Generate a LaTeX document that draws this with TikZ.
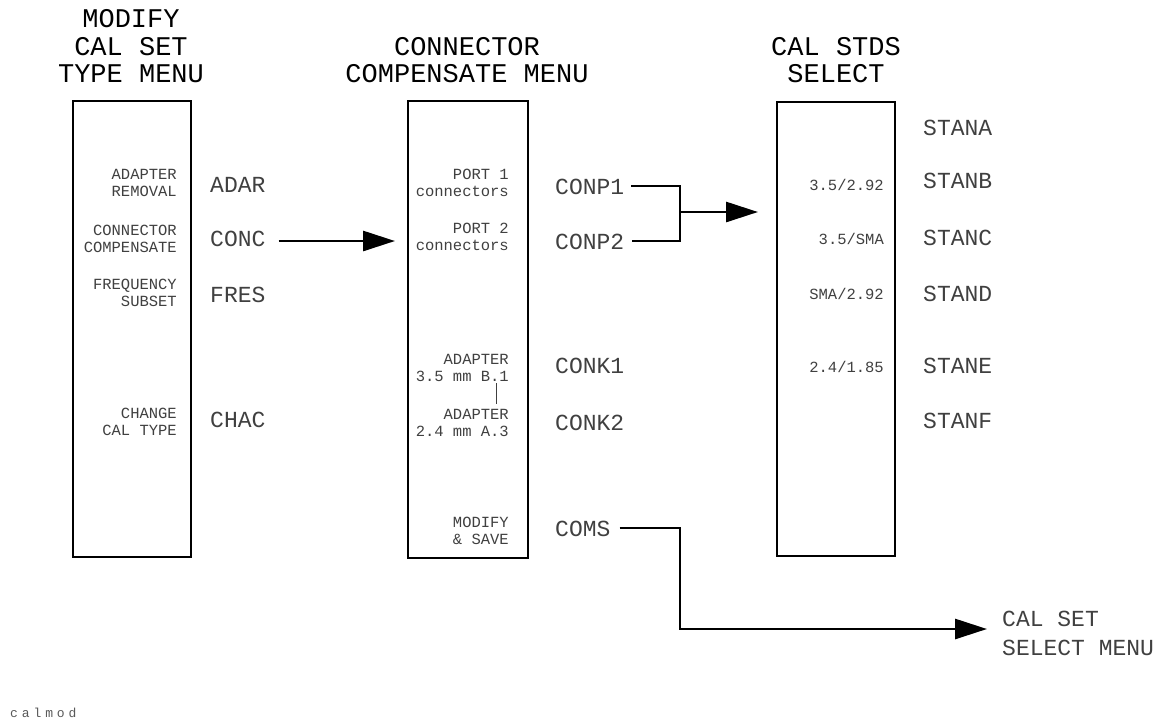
\documentclass[tikz,border=0pt]{standalone}
\usepackage{fontspec}
\newfontfamily\pf{Liberation Mono}
\usetikzlibrary{arrows.meta}
\begin{document}
\begin{tikzpicture}[x=1pt,y=-1pt,
  title/.style={font=\pf\fontsize{27}{27.5}\selectfont, align=center, inner sep=0pt, anchor=south},
  lab/.style={font=\pf\fontsize{15.5}{17.5}\selectfont, text=black!75, align=right, inner sep=0pt, anchor=south east},
  slab/.style={font=\pf\fontsize{15.5}{17.5}\selectfont, text=black!75, inner sep=0pt, anchor=base east},
  key/.style={font=\pf\fontsize{23}{23}\selectfont, text=black!75, inner sep=0pt, anchor=base west, text height=16pt, text depth=0pt},
  menubox/.style={draw, line width=1.5pt, inner sep=0pt, anchor=north west},
  conn/.style={line width=2.8pt},
  arr/.style={conn, -{Triangle[length=32pt,width=20pt]}}
]
\useasboundingbox (0,0) rectangle (1164,724);

% boxes
\node[menubox, minimum width=118pt, minimum height=456pt] (b1) at (72,100) {};
\node[menubox, minimum width=120pt, minimum height=457pt] (b2) at (407,100) {};
\node[menubox, minimum width=118pt, minimum height=454pt] (b3) at (776,101) {};

% titles
\node[title] (t1) at (131,83) {MODIFY\\CAL SET\\TYPE MENU};
\node[title] (t2) at (467,83) {CONNECTOR\\COMPENSATE MENU};
\node[title] (t3) at (836,83) {CAL STDS\\SELECT};

% box 1 labels
\node[lab] (l1) at (177,197) {ADAPTER\\REMOVAL};
\node[lab] (l2) at (177,253) {CONNECTOR\\COMPENSATE};
\node[lab] (l3) at (177,307) {FREQUENCY\\SUBSET};
\node[lab] (l4) at (177,436) {CHANGE\\CAL TYPE};

% box 2 labels
\node[lab] (p1) at (509,197) {PORT 1\\connectors};
\node[lab] (p2) at (509,251) {PORT 2\\connectors};
\node[lab] (k1) at (509,382) {ADAPTER\\3.5 mm B.1};
\node[lab] (k2) at (509,437) {ADAPTER\\2.4 mm A.3};
\node[lab] (ms) at (509,545) {MODIFY\\\& SAVE};

% box 3 labels
\node[slab] (s1) at (884,190) {3.5/2.92};
\node[slab] (s2) at (884,244) {3.5/SMA};
\node[slab] (s3) at (884,299) {SMA/2.92};
\node[slab] (s4) at (884,372) {2.4/1.85};

% softkeys
\node[key] (adar) at (210,192) {ADAR};
\node[key] (conc) at (210,246) {CONC};
\node[key] (fres) at (210,302) {FRES};
\node[key] (chac) at (210,427) {CHAC};

\node[key] (conp1) at (555,194) {CONP1};
\node[key] (conp2) at (555,249) {CONP2};
\node[key] (conk1) at (555,373) {CONK1};
\node[key] (conk2) at (555,430) {CONK2};
\node[key] (coms) at (555,536) {COMS};

\node[key] (stana) at (923,135) {STANA};
\node[key] (stanb) at (923,188) {STANB};
\node[key] (stanc) at (923,245) {STANC};
\node[key] (stand) at (923,301) {STAND};
\node[key] (stane) at (923,373) {STANE};
\node[key] (stanf) at (923,428) {STANF};

\node[font=\pf\fontsize{23}{29}\selectfont, text=black!75, align=left, inner sep=0pt, anchor=south west] (calset) at (1002,656) {CAL SET\\SELECT MENU};

\node[font=\pf\fontsize{13}{13}\selectfont\addfontfeature{LetterSpace=30}, text=black!65, inner sep=0pt, anchor=base west] (cm) at (10,717) {calmod};

% connectors
\draw[arr] ([xshift=13pt,yshift=-3pt]conc.east) -- ([xshift=-12pt,yshift=-3pt]conc.east -| b2.west);

\coordinate (jn) at (680,212);
\draw[conn] ([xshift=7pt]conp1.east) -| (jn) |- ([xshift=8pt]conp2.east);
\draw[arr] (jn) -- ([xshift=-18pt]jn -| b3.west);

\coordinate (bend) at (680,629);
\draw[arr] ([xshift=9pt]coms.east) -| (bend) -- ([xshift=-15pt]bend -| calset.west);

\draw[line width=1pt, black!75] ([xshift=-13pt,yshift=-1pt]k1.south east) -- ([xshift=-13pt,yshift=5pt]k2.north east);
\end{tikzpicture}
\end{document}
